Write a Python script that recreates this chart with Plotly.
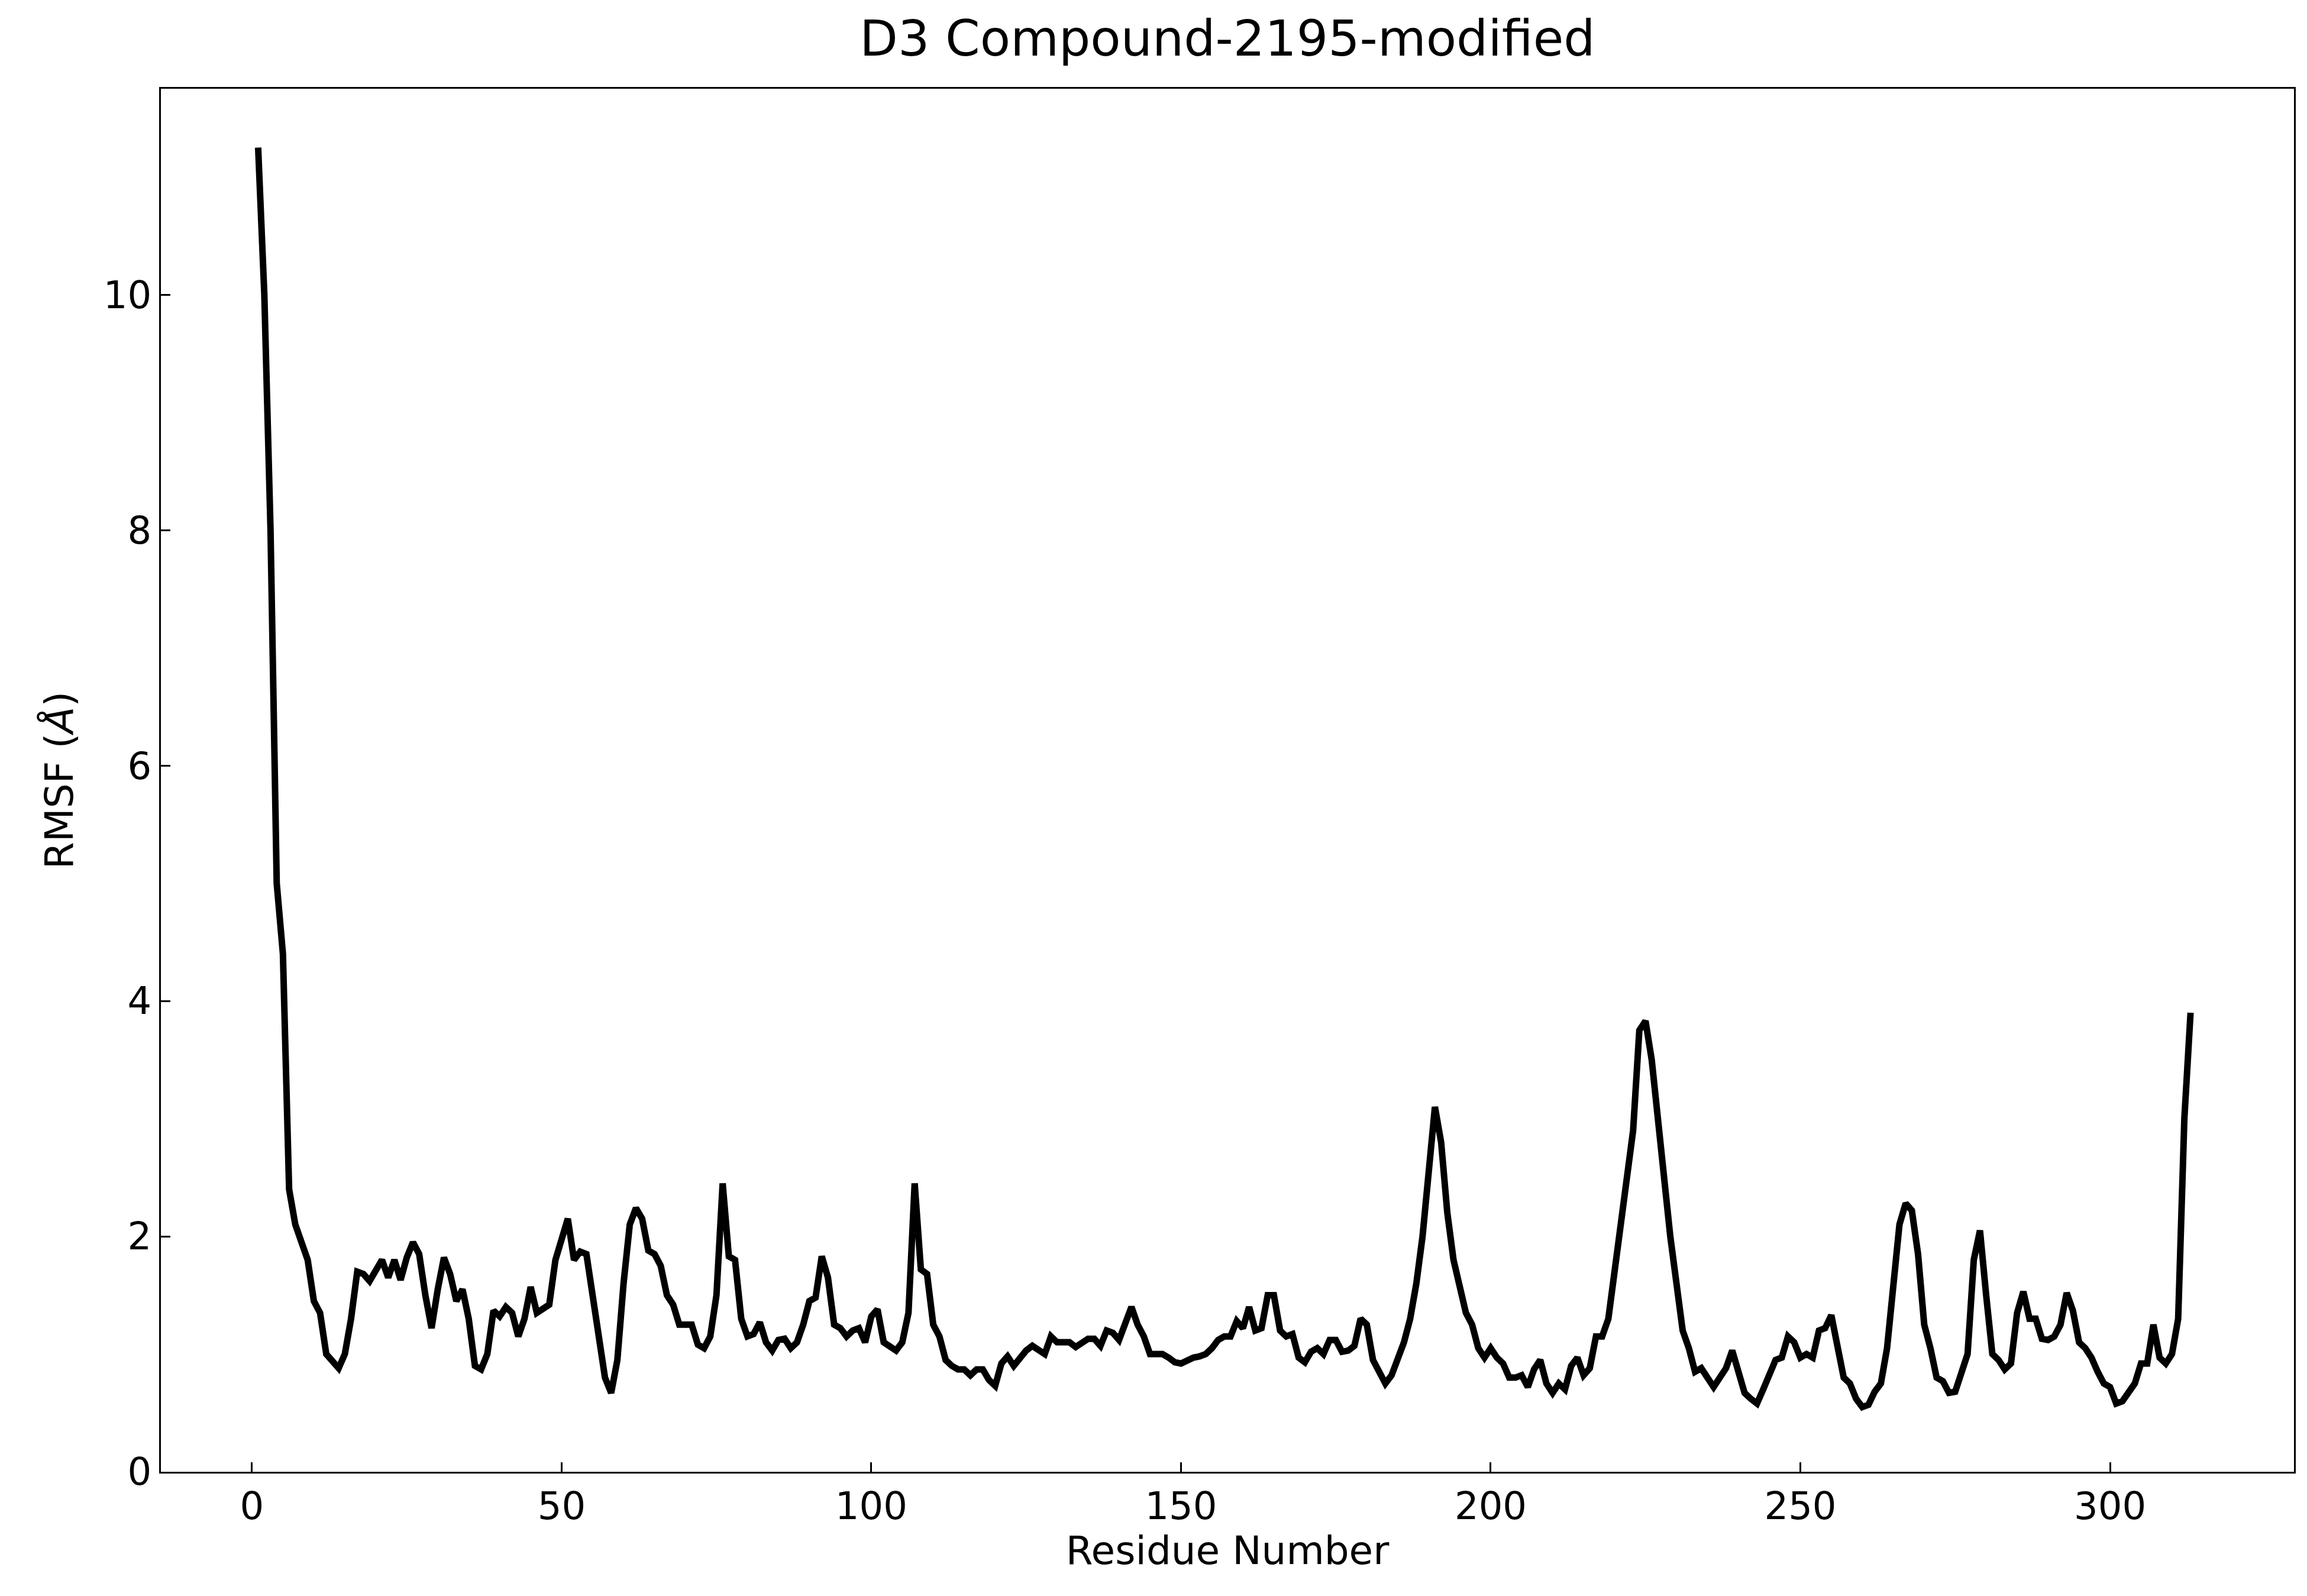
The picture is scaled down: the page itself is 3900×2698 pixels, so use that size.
import plotly.graph_objects as go

rmsf = [11.25,10.0,8.0,5.0,4.4,2.4,2.1,1.95,1.8,1.45,1.35,1.0,0.93,0.88,1.0,1.3,1.7,1.68,1.62,
1.72,1.8,1.65,1.8,1.63,1.82,1.95,1.85,1.5,1.22,1.55,1.82,1.68,1.45,1.55,1.3,0.9,0.87,1.0,
1.37,1.32,1.4,1.35,1.15,1.3,1.57,1.35,1.38,1.42,1.8,2.0,2.15,1.8,1.87,1.85,1.5,1.2,0.8,0.67,
0.95,1.6,2.1,2.24,2.15,1.88,1.85,1.75,1.5,1.42,1.25,1.25,1.25,1.08,1.05,1.15,1.5,2.45,1.83,
1.8,1.3,1.15,1.17,1.27,1.1,1.03,1.12,1.13,1.05,1.1,1.25,1.45,1.48,1.83,1.65,1.25,1.22,1.15,1.2,
1.22,1.1,1.32,1.38,1.1,1.07,1.03,1.1,1.35,2.45,1.72,1.68,1.25,1.15,0.95,0.9,0.87,0.87,0.82,0.87,0.87,
0.78,0.73,0.92,0.98,0.9,0.97,1.03,1.07,1.03,1.0,1.15,1.1,1.1,1.1,1.06,1.1,1.13,1.13,1.07,1.2,1.18,
1.12,1.25,1.4,1.25,1.15,1.0,1.0,1.0,0.97,0.93,0.92,0.95,0.97,0.98,1.0,1.05,1.12,1.15,1.15,1.28,
1.22,1.4,1.2,1.22,1.5,1.5,1.2,1.15,1.17,0.97,0.93,1.02,1.05,1.0,1.12,1.12,1.02,1.03,1.07,1.3,
1.25,0.95,0.85,0.75,0.82,0.95,1.1,1.3,1.6,2.0,2.6,3.1,2.8,2.2,1.8,1.55,1.35,1.25,1.05,0.97,
1.05,0.97,0.92,0.8,0.8,0.82,0.72,0.87,0.95,0.75,0.67,0.75,0.7,0.9,0.97,0.82,0.88,1.15,1.15,
1.3,1.7,2.0,2.5,2.9,3.75,3.83,3.5,3.0,2.45,2.0,1.6,1.2,1.05,0.85,0.88,0.8,0.72,0.8,0.88,
1.03,0.85,0.67,0.62,0.58,0.7,0.83,0.95,0.97,1.15,1.1,0.97,1.0,0.97,1.2,1.22,1.33,1.05,0.8,0.75,
0.62,0.55,0.57,0.68,0.75,1.05,1.6,2.1,2.28,2.22,1.85,1.25,1.05,0.8,0.77,0.67,0.68,0.85,1.0,1.8,
2.05,1.5,1.0,0.95,0.87,0.92,1.35,1.53,1.3,1.3,1.13,1.12,1.15,1.25,1.52,1.37,1.1,1.05,0.97,0.85,
0.75,0.72,0.58,0.6,0.67,0.75,0.92,0.92,1.25,0.97,0.92,1.0,1.3,3.0,3.9]
residues = list(range(1, len(rmsf) + 1))

fig = go.Figure(go.Scatter(x=residues, y=rmsf, mode="lines",
                           line=dict(color="black", width=11)))
font = "DejaVu Sans"
fig.update_layout(
    width=3900, height=2698, plot_bgcolor="white", paper_bgcolor="white",
    margin=dict(l=264, r=30, t=142, b=218),
    font=dict(family=font, size=64, color="black"),
    title=dict(text="D3 Compound-2195-modified", x=0.53, xanchor="center",
               y=0.99, yanchor="top", font=dict(size=84)),
    showlegend=False,
)
axis = dict(showline=True, linecolor="black", linewidth=3, mirror=True,
            ticks="inside", ticklen=16, tickwidth=3, tickcolor="black",
            showgrid=False, zeroline=False)
fig.update_xaxes(range=[-14.7, 329.7], tickvals=[0, 50, 100, 150, 200, 250, 300],
                 title=dict(text="Residue Number", font=dict(size=66), standoff=8), **axis)
fig.update_yaxes(range=[0, 11.75], tickvals=[0, 2, 4, 6, 8, 10],
                 title=dict(text="RMSF (<i>Å</i>)", font=dict(size=66), standoff=30), **axis)
fig.write_html("out.html")
